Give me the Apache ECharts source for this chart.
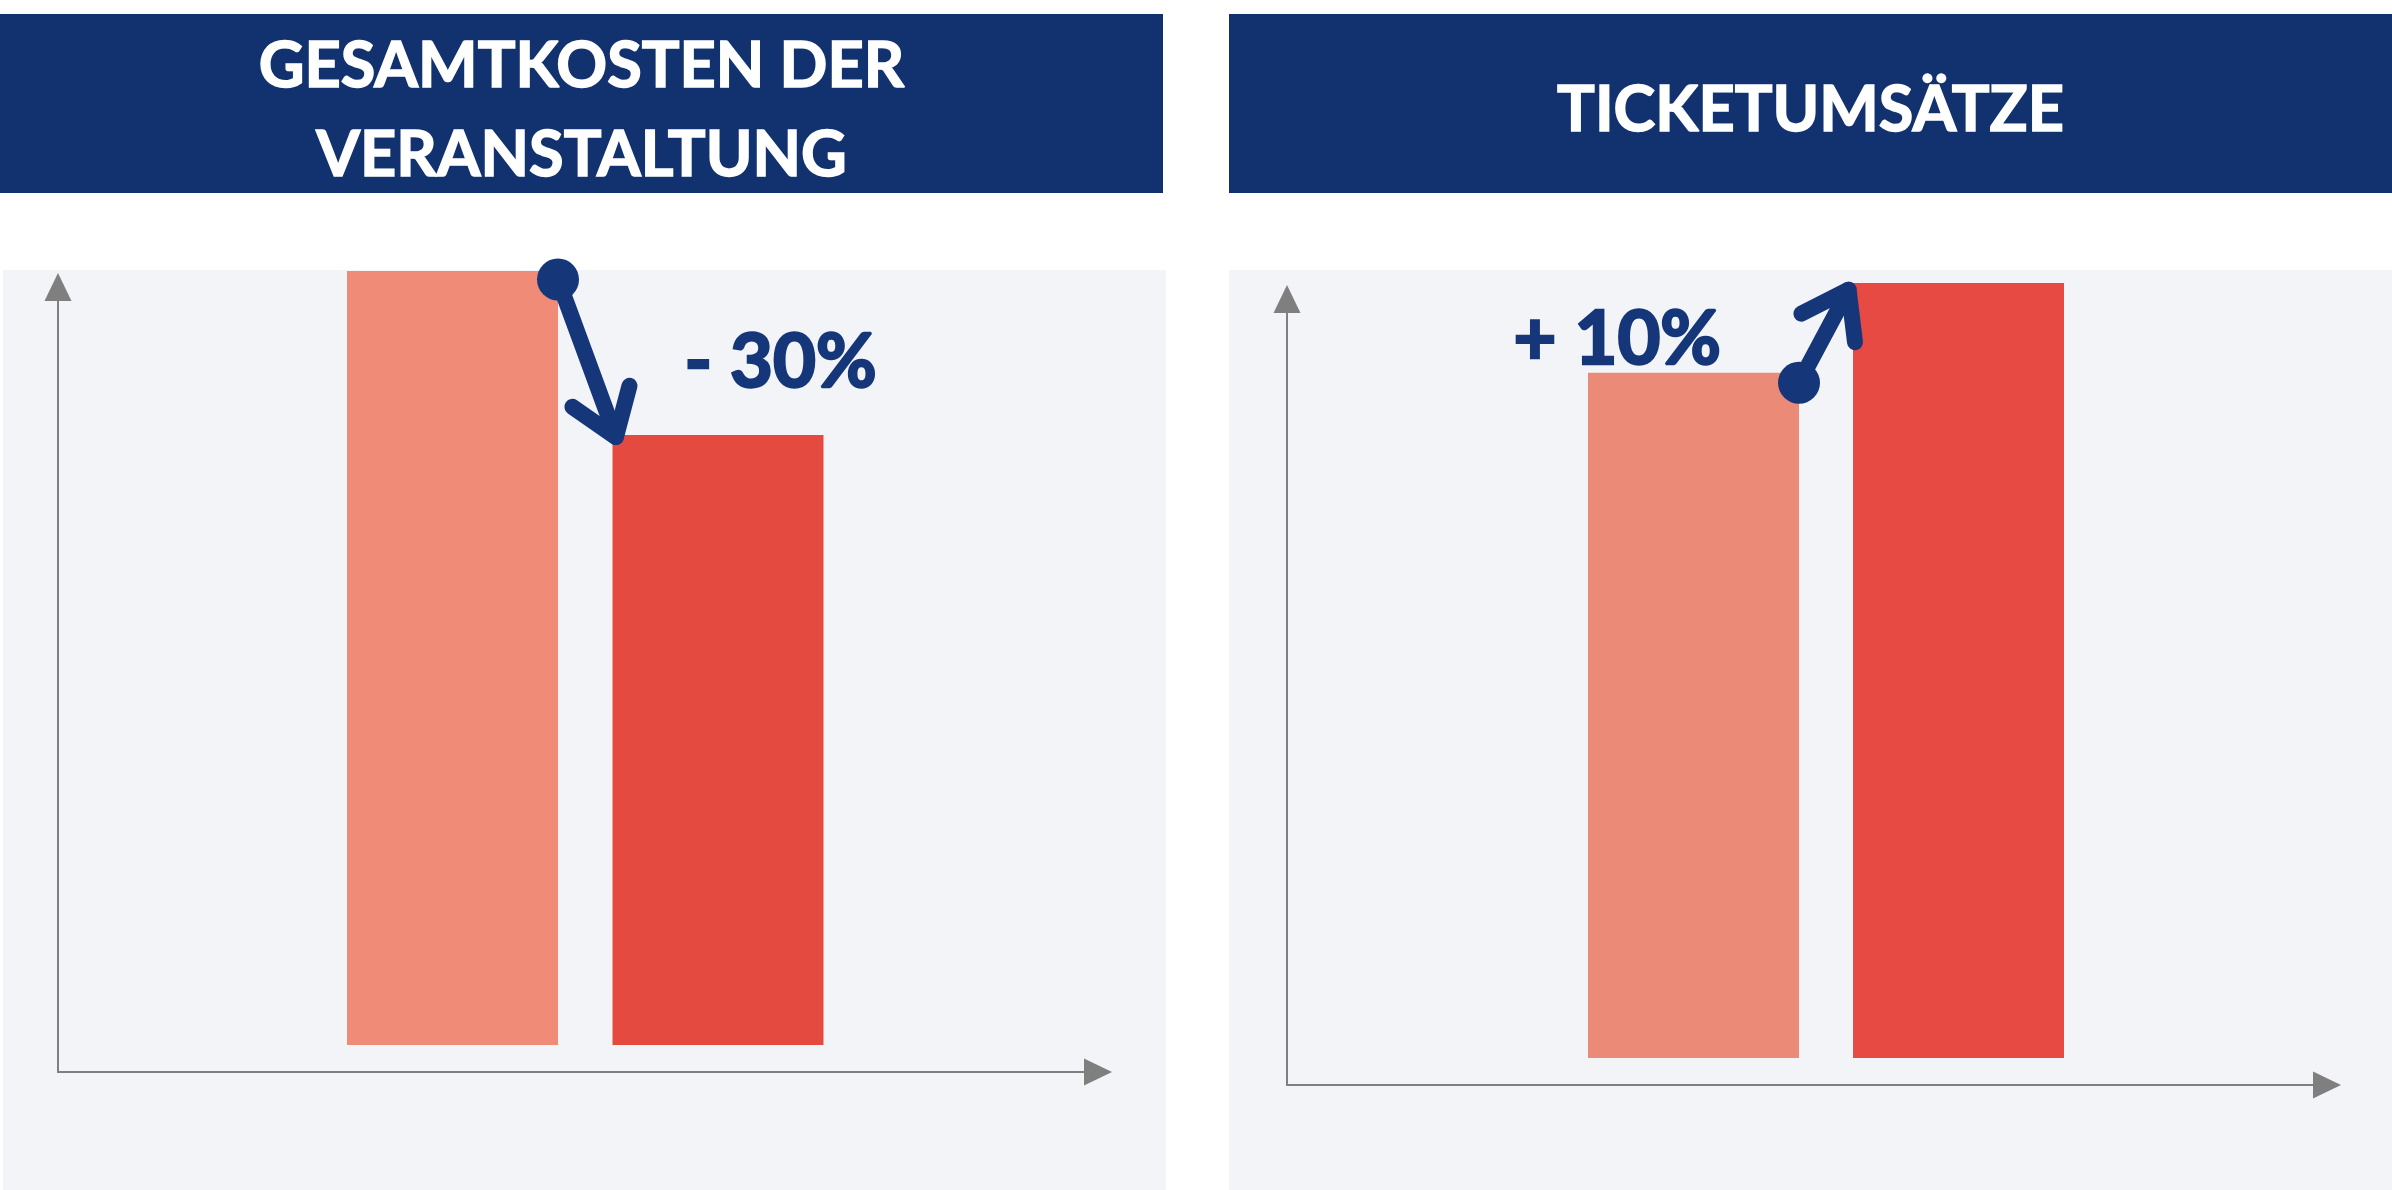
<!DOCTYPE html>
<html>
<head>
<meta charset="utf-8">
<script src="https://cdn.jsdelivr.net/npm/echarts@6/dist/echarts.min.js"></script>
<style>
html,body{margin:0;padding:0;background:#ffffff;}
#c{width:2392px;height:1190px;}
</style>
</head>
<body>
<div id="c"></div>
<script>
// ---- data ----
const categories = ['Vorher', 'Nachher'];
const kostenValues = [100, 78.8];
const umsatzValues = [100, 113.1];
const changeLabels = ['- 30%', '+ 10%'];
const panelTitles = ['GESAMTKOSTEN DER\nVERANSTALTUNG', 'TICKETUMSÄTZE'];

// ---- style ----
const NAVY = '#12326F';
const ARROW = '#15377A';
const AXIS_GRAY = '#7F7F7F';
const PANEL_BG = '#F2F4F7';
const BAR_COLORS = [['#EF8B77', '#E54A40'], ['#EC8A78', '#E74A42']];
const FONT = 'Lato, "Open Sans", sans-serif';
const BAR_W = 211;

const chart = echarts.init(document.getElementById('c'), null, {renderer: 'canvas'});

function decoAxis(gridIndex) {
  return {
    gridIndex: gridIndex, type: 'value', min: 0, max: 1,
    axisLine: {show: true, onZero: false, symbol: ['none', 'triangle'], symbolSize: [27, 28],
      lineStyle: {color: AXIS_GRAY, width: 2}},
    axisTick: {show: false}, axisLabel: {show: false}, splitLine: {show: false}
  };
}
function catAxis(gridIndex) {
  return {gridIndex: gridIndex, type: 'category', data: categories, show: false};
}
function valAxis(gridIndex, values) {
  return {gridIndex: gridIndex, type: 'value', min: 0, max: Math.max.apply(null, values), show: false,
    splitLine: {show: false}};
}
function barSeries(axisIdx, values, colors) {
  return {
    type: 'bar', xAxisIndex: axisIdx, yAxisIndex: axisIdx, barWidth: BAR_W, silent: true,
    data: values.map(function (v, i) { return {value: v, itemStyle: {color: colors[i]}}; })
  };
}

const titleStyle = {color: '#ffffff', fontFamily: FONT, fontWeight: 'bold', fontSize: 63, lineHeight: 89,
  textBorderColor: '#ffffff', textBorderWidth: 1.5};

chart.setOption({
  animation: false,
  backgroundColor: '#ffffff',
  title: [
    {text: panelTitles[0], left: 581.5, top: 22, textAlign: 'center', padding: 0, textStyle: titleStyle},
    {text: panelTitles[1], left: 1810.5, top: 66, textAlign: 'center', padding: 0, textStyle: titleStyle}
  ],
  grid: [
    {left: 58, top: 287, width: 1040, height: 785},
    {left: 319.75, top: 271, width: 531, height: 774},
    {left: 1287, top: 299, width: 1040, height: 786},
    {left: 1561, top: 283, width: 530, height: 775}
  ],
  xAxis: [decoAxis(0), catAxis(1), decoAxis(2), catAxis(3)],
  yAxis: [decoAxis(0), valAxis(1, kostenValues), decoAxis(2), valAxis(3, umsatzValues)],
  series: [
    barSeries(1, kostenValues, BAR_COLORS[0]),
    barSeries(3, umsatzValues, BAR_COLORS[1])
  ],
  graphic: {
    elements: [
      {type: 'rect', id: 'bgL', z: -10, silent: true, shape: {x: 3, y: 270, width: 1163, height: 920}, style: {fill: PANEL_BG}},
      {type: 'rect', id: 'bgR', z: -10, silent: true, shape: {x: 1229, y: 270, width: 1163, height: 920}, style: {fill: PANEL_BG}},
      {type: 'rect', id: 'hdL', z: -5, silent: true, shape: {x: 0, y: 14, width: 1163, height: 179}, style: {fill: NAVY}},
      {type: 'rect', id: 'hdR', z: -5, silent: true, shape: {x: 1229, y: 14, width: 1163, height: 179}, style: {fill: NAVY}}
    ]
  }
});

// ---- annotations anchored on the bars ----
function corner(gridIdx, cat, val, side) {
  const p = chart.convertToPixel({gridIndex: gridIdx}, [cat, val]);
  return [p[0] + side * BAR_W / 2, p[1]];
}
function arrowEls(id, s, t, wingLen) {
  const dx = s[0] - t[0], dy = s[1] - t[1], L = Math.hypot(dx, dy);
  const ux = dx / L, uy = dy / L;
  const a = 35 * Math.PI / 180;
  function wing(ang) {
    return [t[0] + wingLen * (ux * Math.cos(ang) - uy * Math.sin(ang)),
            t[1] + wingLen * (ux * Math.sin(ang) + uy * Math.cos(ang))];
  }
  const st = {stroke: ARROW, lineWidth: 16, lineCap: 'round', lineJoin: 'round', fill: null};
  return [
    {type: 'polyline', id: id + 'shaft', z: 100, silent: true, shape: {points: [s, t]}, style: st},
    {type: 'polyline', id: id + 'head', z: 100, silent: true, shape: {points: [wing(a), t, wing(-a)]}, style: st},
    {type: 'circle', id: id + 'dot', z: 101, silent: true, shape: {cx: s[0], cy: s[1], r: 21}, style: {fill: ARROW}}
  ];
}

const lA = corner(1, 0, kostenValues[0], 1);
const lB = corner(1, 1, kostenValues[1], -1);
const rA = corner(3, 0, umsatzValues[0], 1);
const rB = corner(3, 1, umsatzValues[1], -1);

const labelStyle = {fill: ARROW, stroke: ARROW, lineWidth: 2.5, fontFamily: FONT, fontWeight: 'bold',
  fontSize: 74, verticalAlign: 'middle'};

let ann = [];
ann = ann.concat(arrowEls('aL', [lA[0], lA[1] + 8.5], [lB[0] + 3.4, lB[1] + 2], 53));
ann = ann.concat(arrowEls('aR', [rA[0], rA[1] + 10], [rB[0] - 4.4, rB[1] + 6.7], 53));
ann.push({type: 'text', id: 'tL', z: 100, silent: true, x: lB[0] + 72, y: lB[1] - 71.5,
  style: Object.assign({text: changeLabels[0], align: 'left'}, labelStyle)});
ann.push({type: 'text', id: 'tR', z: 100, silent: true, x: rA[0] - 78, y: rA[1] - 32.5,
  style: Object.assign({text: changeLabels[1], align: 'right'}, labelStyle)});

chart.setOption({graphic: {elements: ann}});
</script>
</body>
</html>
